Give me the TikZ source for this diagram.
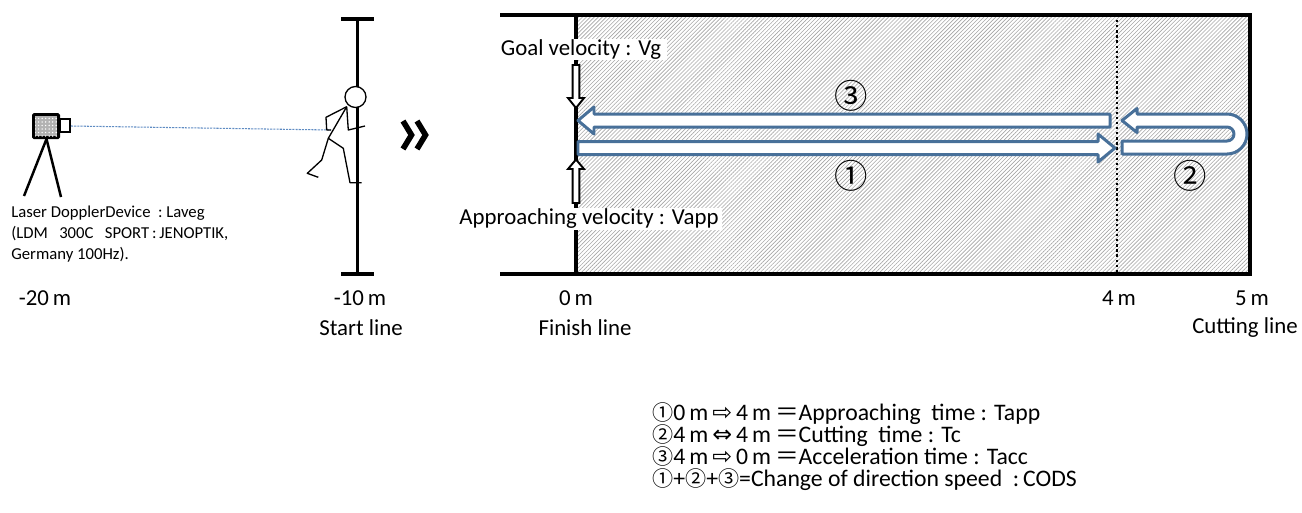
\documentclass[tikz,border=0pt]{standalone}
\usepackage{fontspec}
\setmainfont{Carlito}
\newfontfamily\cjk{Noto Sans CJK JP}
\newfontfamily\symb{DejaVu Sans}
\usetikzlibrary{patterns.meta}
\definecolor{runblue}{RGB}{72,112,153}
\definecolor{laserblue}{RGB}{95,140,195}
\newcommand\legfont{\fontsize{13.5}{12.5}\selectfont\lineskiplimit=-20pt\relax}
\newcommand\cnum[1]{{\cjk\fontsize{12}{12.5}\selectfont #1}}

\begin{document}
\begin{tikzpicture}[x=0.02cm, y=-0.02cm,
  bar/.style={line width=1.8pt},
  limb/.style={line width=0.75pt, line join=round},
  hollow/.style={draw=black, fill=white, line width=1.1pt},
  runpath/.style={draw=runblue, fill=white, line width=1.7pt, line join=round},
  lbl/.style={font=\fontsize{13}{15}\selectfont, inner sep=0pt},
  num/.style={font=\cjk\fontsize{19}{19}\selectfont, inner sep=0pt}]
  \useasboundingbox (0,0) rectangle (1302,512);

  % Laser device on its tripod
  \fill[rounded corners=1pt] (32,113) rectangle (60,139);
  \fill[gray!60] (35,116) rectangle (57,136);
  \fill[pattern={Dots[distance=2pt,radius=0.45pt]}, pattern color=white] (35,116) rectangle (57,136);
  \draw[line width=1.3pt] (60,119) rectangle (70,132);
  \draw[line width=1.4pt] (46.5,139) -- (24,196);
  \draw[line width=1.4pt] (46.5,139) -- (61,197);
  \node[font=\fontsize{9.5}{12}\selectfont, align=left, anchor=west, inner sep=0pt] (laveg) at (11,234)
    {Laser DopplerDevice\ \ :\ Laveg\\
     (LDM\ \ \ 300C\ \ \ SPORT\,:\,JENOPTIK,\\
     Germany 100Hz).};

  % Laser beam
  \coordinate (lens) at (71,126);
  \coordinate (hand) at (331,130);
  \draw[laserblue, line width=0.6pt, dash pattern=on 1.2pt off 0.6pt] (lens) -- (hand);

  % Start pole
  \draw[bar] (357.5,19) -- (357.5,274);
  \draw[bar] (341,19) -- (374,19);
  \draw[bar] (341,274) -- (374,274);

  % Runner
  \coordinate (neck) at (346.7,106.7);
  \coordinate (hip) at (328.3,138.3);
  \draw[limb, fill=white] (355.5,97) circle (10.5);
  \draw[limb] (neck) -- (hip);
  \draw[limb] (neck) -- (326,117.3) -- (326.7,130) -- (hand);
  \draw[limb] (neck) -- (348.3,130) -- (365,126);
  \draw[limb] (hip) -- (343.3,148.3) -- (350,182.7) -- (361.7,182.7);
  \draw[limb] (hip) -- (321.7,160) -- (307.3,173.3) -- (318.3,177.3);

  % Double chevron
  \draw[line width=3.2pt, miter limit=4] (403,121) -- (411.5,135) -- (403,149);
  \draw[line width=3.2pt, miter limit=4] (417,121) -- (425.5,135) -- (417,149);

  % Test area
  \fill[pattern={Lines[angle=45,distance=1.6pt,line width=0.35pt]}, pattern color=gray!70]
    (576,15) rectangle (1250,274);
  \draw[bar] (500,15) -- (1250,15) -- (1250,274) -- (500,274);
  \draw[bar] (576,15) -- (576,274);
  \draw[line width=1.4pt, dash pattern=on 1.3pt off 1.6pt] (1117,15) -- (1117,274);

  % Velocity labels
  \node[lbl, fill=white, inner xsep=3.5pt, inner ysep=0.5pt] (goal) at (581,49.5) {Goal velocity : Vg};
  \node[lbl, fill=white, inner xsep=2pt, inner ysep=0.5pt] (vapp) at (589,219) {Approaching velocity : Vapp};
  \draw[hollow] (572.7,65) -- (579.3,65) -- (579.3,98) -- (584,98) -- (576,108)
    -- (568,98) -- (572.7,98) -- cycle;
  \draw[hollow] (572.7,203) -- (579.3,203) -- (579.3,169) -- (584,169) -- (576,159.5)
    -- (568,169) -- (572.7,169) -- cycle;

  % Running paths
  \draw[runpath] (1110,114) -- (594,114) -- (594,107) -- (578,120.5) -- (594,134)
    -- (594,127) -- (1110,127) -- cycle;
  \draw[runpath] (578,141.5) -- (1098,141.5) -- (1098,134) -- (1115,148) -- (1098,162)
    -- (1098,154.5) -- (578,154.5) -- cycle;
  \draw[runpath] (1122,141) -- (1227,141) arc[start angle=90, end angle=-90, radius=7]
    -- (1137,127) -- (1137,132.5) -- (1122,120.5) -- (1137,108.5) -- (1137,114) -- (1227,114)
    arc[start angle=-90, end angle=90, radius=20] -- (1122,154) -- cycle;
  \node[num] (p3) at (851,96) {③};
  \node[num] (p1) at (851,176) {①};
  \node[num] (p2) at (1190,176) {②};

  % Distances
  \node[lbl] (m20) at (45,298) {-20\,m};
  \node[lbl] (m10) at (360,298) {-10\,m};
  \node[lbl] (start) at (361,328) {Start line};
  \node[lbl] (m0) at (576,298) {0\,m};
  \node[lbl] (finish) at (585,328) {Finish line};
  \node[lbl] (m4) at (1119,298) {4\,m};
  \node[lbl] (m5) at (1252,298) {5\,m};
  \node[lbl] (cut) at (1245,328) {Cutting line};

  % Legend
  \node[lbl, font=\legfont, align=left, anchor=north west] (legend) at (652,402)
    {\cnum{①}0\,m\,{\symb ⇨}\,4\,m\,{\cjk ＝}Approaching\ \ time : Tapp\\
     \cnum{②}4\,m\,{\symb ⇔}\,4\,m\,{\cjk ＝}Cutting\ \ time : Tc\\
     \cnum{③}4\,m\,{\symb ⇨}\,0\,m\,{\cjk ＝}Acceleration time : Tacc\\
     \cnum{①}+\cnum{②}+\cnum{③}=Change of direction speed\ \ :\,CODS};
\end{tikzpicture}
\end{document}
